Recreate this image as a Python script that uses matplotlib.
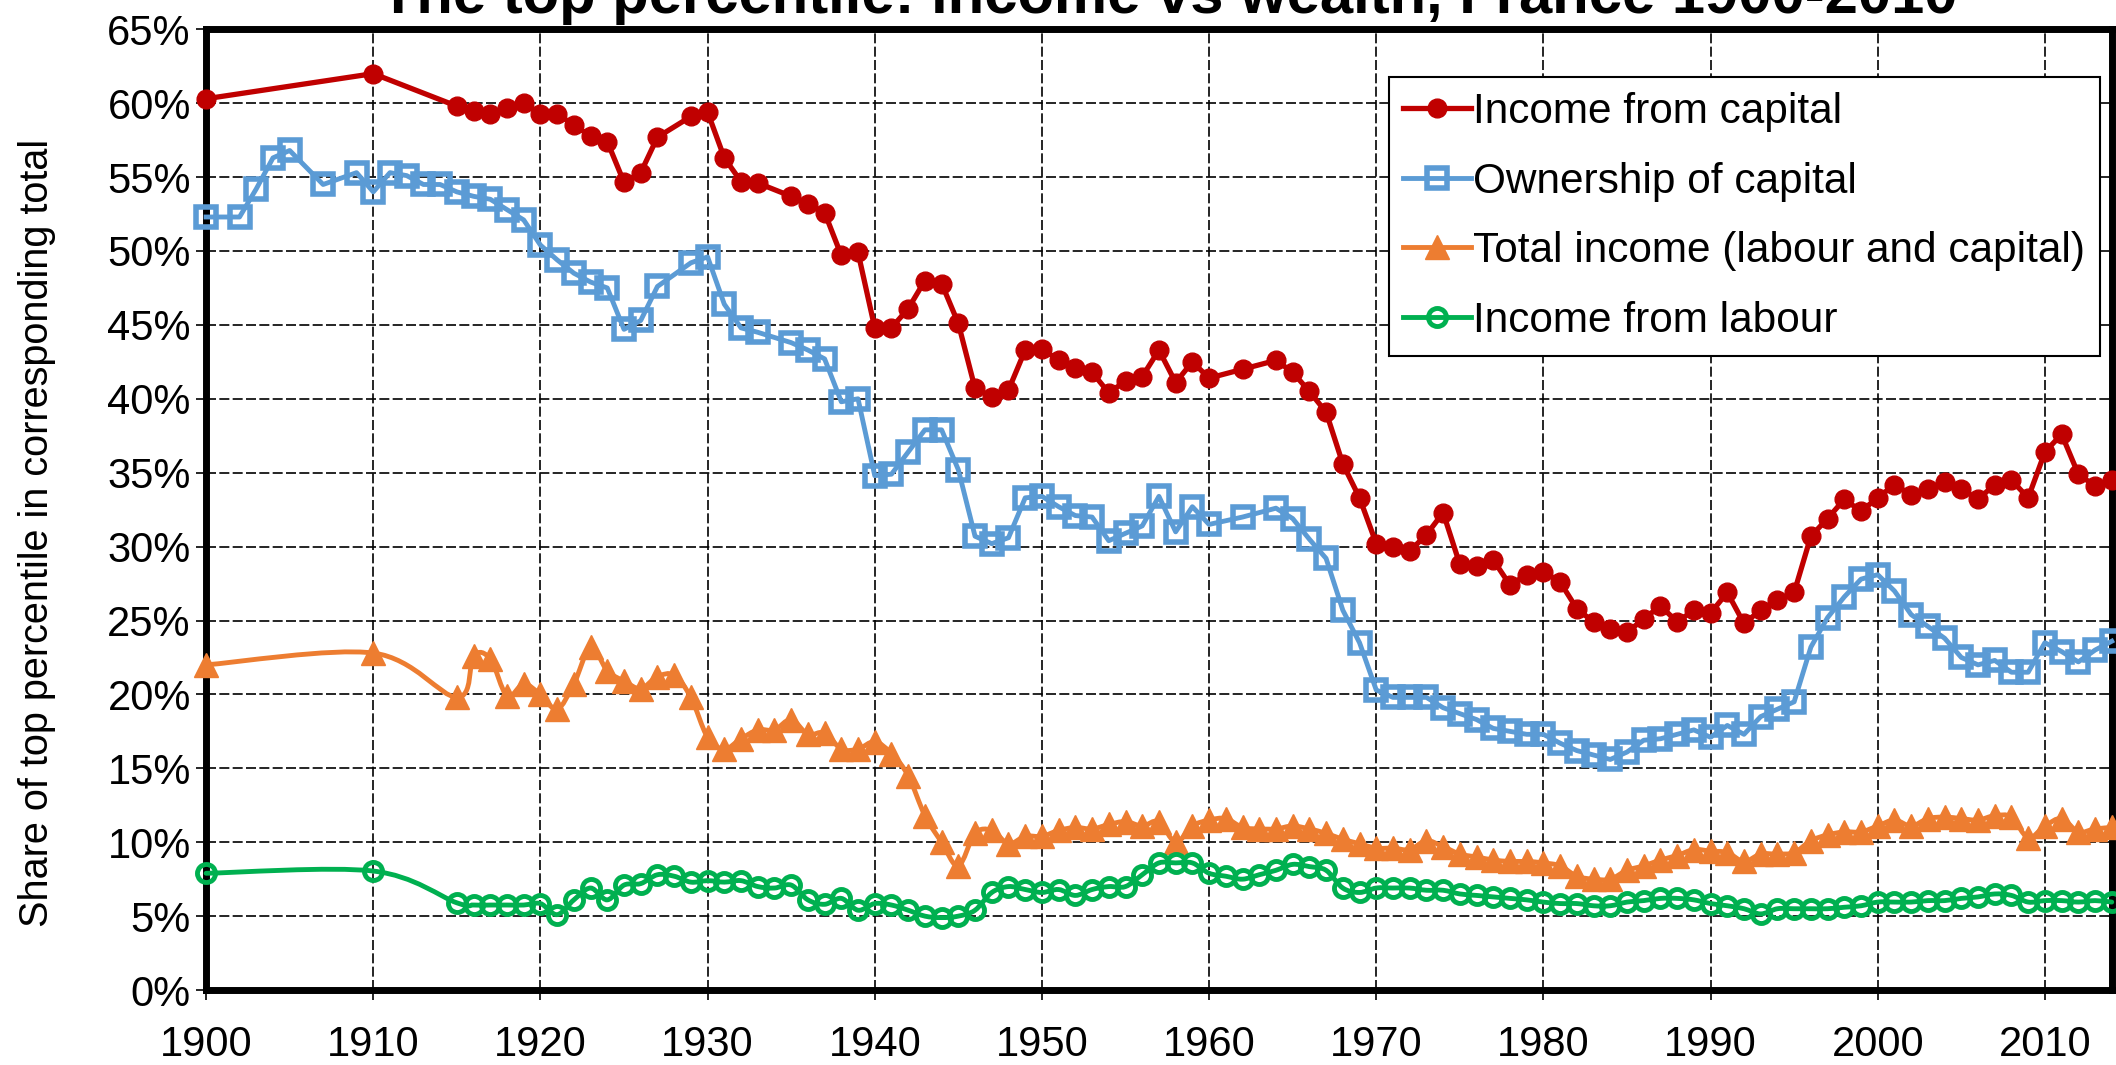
import numpy as np
import matplotlib
matplotlib.use("Agg")
import matplotlib.pyplot as plt
from matplotlib.lines import Line2D
from matplotlib.path import Path
from matplotlib.patches import PathPatch

plt.rcParams["font.family"] = ["Liberation Sans", "DejaVu Sans"]

# ---------------------------------------------------------------------------
# Data (shares in %)
# ---------------------------------------------------------------------------

TITLE = "The top percentile: income vs wealth, France 1900-2010"
YLABEL = "Share of top percentile in corresponding total"
LABELS = ["Income from capital", "Ownership of capital",
          "Total income (labour and capital)", "Income from labour"]

cap_income_years = [1900, 1910, 1915, 1916, 1917, 1918, 1919, 1920, 1921, 1922,
                    1923, 1924, 1925, 1926, 1927, 1929, 1930, 1931, 1932, 1933,
                    1935, 1936, 1937, 1938, 1939, 1940, 1941, 1942, 1943, 1944,
                    1945, 1946, 1947, 1948, 1949, 1950, 1951, 1952, 1953, 1954,
                    1955, 1956, 1957, 1958, 1959, 1960, 1962] + list(range(1964, 2015))
cap_income = [60.3, 62.0, 59.8, 59.5, 59.25, 59.7, 60.0, 59.3, 59.3, 58.5,
              57.8, 57.4, 54.65, 55.3, 57.7, 59.1, 59.4, 56.3, 54.7, 54.6,
              53.7, 53.2, 52.6, 49.7, 49.9, 44.8, 44.8, 46.1, 48.0, 47.8,
              45.1, 40.7, 40.15, 40.6, 43.3, 43.4, 42.6, 42.1, 41.8, 40.4,
              41.2, 41.5, 43.3, 41.1, 42.5, 41.4, 42.0,
              42.6, 41.8, 40.5, 39.1, 35.6, 33.3, 30.2, 30.0, 29.7, 30.8,
              32.3, 28.8, 28.7, 29.1, 27.4, 28.1, 28.3, 27.6, 25.8, 24.9,
              24.4, 24.2, 25.1, 26.0, 24.9, 25.7, 25.5, 26.9, 24.8, 25.7,
              26.4, 26.9, 30.7, 31.9, 33.2, 32.4, 33.3, 34.2, 33.5, 33.9,
              34.4, 33.9, 33.2, 34.2, 34.5, 33.3, 36.4, 37.6, 34.9, 34.1,
              34.5]

wealth_years = [1900, 1902, 1903, 1904, 1905, 1907, 1909, 1910, 1911, 1912,
                1913, 1914, 1915, 1916, 1917, 1918, 1919, 1920, 1921, 1922,
                1923, 1924, 1925, 1926, 1927, 1929, 1930, 1931, 1932, 1933,
                1935, 1936, 1937, 1938, 1939, 1940, 1941, 1942, 1943, 1944,
                1945, 1946, 1947, 1948, 1949, 1950, 1951, 1952, 1953, 1954,
                1955, 1956, 1957, 1958, 1959, 1960, 1962] + list(range(1964, 2015))
wealth = [52.3, 52.3, 54.2, 56.3, 56.8, 54.5, 55.3, 54.0, 55.3, 55.1,
          54.5, 54.5, 54.0, 53.7, 53.5, 52.8, 52.1, 50.4, 49.4, 48.5,
          47.9, 47.5, 44.7, 45.3, 47.6, 49.2, 49.6, 46.4, 44.8, 44.5,
          43.8, 43.3, 42.7, 39.8, 40.0, 34.8, 34.9, 36.4, 37.9, 37.9,
          35.2, 30.7, 30.2, 30.6, 33.3, 33.4, 32.7, 32.1, 32.0, 30.4,
          30.9, 31.4, 33.4, 31.0, 32.7, 31.5, 32.0,
          32.6, 31.9, 30.5, 29.2, 25.7, 23.5, 20.3, 19.8, 19.8, 19.8,
          19.1, 18.7, 18.3, 17.7, 17.5, 17.3, 17.3, 16.7, 16.2, 15.9,
          15.6, 16.1, 16.9, 17.0, 17.3, 17.6, 17.1, 17.9, 17.3, 18.5,
          19.0, 19.5, 23.2, 25.2, 26.6, 27.8, 28.1, 27.0, 25.4, 24.6,
          23.8, 22.5, 22.0, 22.3, 21.5, 21.5, 23.5, 22.9, 22.2, 23.0,
          23.6]

income_years = [1900, 1910] + list(range(1915, 2015))
total_income = [22.0, 22.8,
                19.8, 22.6, 22.4, 19.9, 20.7, 20.0, 19.0, 20.7, 23.2, 21.6,
                20.9, 20.4, 21.2, 21.3, 19.8, 17.1, 16.3, 17.0, 17.6, 17.6,
                18.3, 17.3, 17.4, 16.3, 16.3, 16.8, 16.0, 14.5, 11.8, 10.0,
                8.4, 10.6, 10.8, 9.9, 10.4, 10.4, 10.8, 11.0, 10.9, 11.2,
                11.4, 11.1, 11.4, 10.0, 11.1, 11.5, 11.6, 11.0, 10.9, 10.9,
                11.1, 10.9, 10.6, 10.2, 9.9, 9.6, 9.6, 9.5, 10.1, 9.7,
                9.2, 9.0, 8.8, 8.7, 8.7, 8.6, 8.4, 7.7, 7.5, 7.5,
                8.1, 8.4, 8.8, 9.1, 9.5, 9.4, 9.3, 8.7, 9.2, 9.2,
                9.3, 10.1, 10.5, 10.7, 10.7, 11.1, 11.5, 11.1, 11.6, 11.7,
                11.6, 11.5, 11.8, 11.7, 10.3, 11.1, 11.6, 10.7, 10.9, 11.0]
labour_income = [7.9, 8.05,
                 5.9, 5.75, 5.75, 5.75, 5.75, 5.85, 5.1, 6.1, 6.9, 6.1,
                 7.1, 7.2, 7.8, 7.7, 7.3, 7.4, 7.3, 7.4, 7.0, 6.9,
                 7.1, 6.1, 5.8, 6.2, 5.4, 5.85, 5.75, 5.4, 5.0, 4.9,
                 5.0, 5.4, 6.6, 7.0, 6.8, 6.6, 6.8, 6.4, 6.8, 7.0,
                 7.0, 7.8, 8.6, 8.6, 8.6, 7.9, 7.7, 7.5, 7.8, 8.1,
                 8.5, 8.35, 8.1, 6.9, 6.6, 6.9, 6.9, 6.9, 6.75, 6.75,
                 6.5, 6.4, 6.3, 6.2, 6.1, 5.95, 5.85, 5.85, 5.7, 5.7,
                 5.95, 6.05, 6.2, 6.2, 6.1, 5.85, 5.7, 5.5, 5.15, 5.5,
                 5.5, 5.5, 5.5, 5.6, 5.7, 5.95, 5.95, 5.95, 6.05, 6.05,
                 6.2, 6.3, 6.5, 6.4, 5.95, 6.05, 6.05, 5.95, 6.05, 5.95]

x_ticks = list(range(1900, 2011, 10))
y_ticks = list(range(0, 66, 5))

RED, BLUE, ORANGE, GREEN = "#C00000", "#5B9BD5", "#ED7D31", "#00B050"


def smooth_path(xs, ys):
    """Excel-style smoothed line as cubic Bezier segments (Catmull-Rom, 1/6)."""
    pts = np.column_stack([xs, ys]).astype(float)
    n = len(pts)
    verts, codes = [pts[0]], [Path.MOVETO]
    for i in range(n - 1):
        p0 = pts[i - 1] if i > 0 else pts[i]
        p1, p2 = pts[i], pts[i + 1]
        p3 = pts[i + 2] if i + 2 < n else pts[i + 1]
        verts += [p1 + (p2 - p0) / 6, p2 - (p3 - p1) / 6, p2]
        codes += [Path.CURVE4] * 3
    return Path(verts, codes)


# ---------------------------------------------------------------------------
# Figure
# ---------------------------------------------------------------------------

fig = plt.figure(figsize=(21.16, 10.65), dpi=100)
ax = fig.add_axes([0.0974, 0.0704, 0.9006, 0.9021])

styles = [
    dict(color=RED, lw=3.8, marker="o", ms=13.5, mfc=RED, mec=RED, mew=1),
    dict(color=BLUE, lw=3.5, marker="s", ms=14.5, mfc="none", mec=BLUE, mew=4),
    dict(color=ORANGE, lw=3.5, marker="^", ms=17, mfc=ORANGE, mec=ORANGE, mew=1),
    dict(color=GREEN, lw=3.5, marker="o", ms=13, mfc="none", mec=GREEN, mew=3.5),
]

# straight lines
ax.plot(cap_income_years, cap_income, zorder=4, clip_on=False, **styles[0])
ax.plot(wealth_years, wealth, zorder=4, clip_on=False, **styles[1])

# smoothed lines
for yrs, vals, st in [(income_years, total_income, styles[2]),
                      (income_years, labour_income, styles[3])]:
    ax.add_patch(PathPatch(smooth_path(yrs, vals), fill=False, edgecolor=st["color"],
                           lw=st["lw"], zorder=4, clip_on=False, capstyle="round"))
    ax.plot(yrs, vals, ls="none", zorder=4, clip_on=False,
            **{k: v for k, v in st.items() if k not in ("lw",)})

ax.set_xlim(1900, 2014)
ax.set_ylim(0, 65)
ax.set_xticks(x_ticks)
ax.set_yticks(y_ticks)
ax.set_yticklabels([f"{v}%" for v in y_ticks])

ax.grid(True, color="black", lw=1.2, ls=(0, (6, 2)))
ax.set_axisbelow(True)
for sp in ax.spines.values():
    sp.set_linewidth(5)
    sp.set_color("black")

ax.tick_params(axis="both", direction="out", length=7, width=1.2, labelsize=30)
ax.tick_params(axis="y", pad=4)
ax.tick_params(axis="x", pad=18.5)

ax.set_ylabel(YLABEL, fontsize=28.5)
ax.yaxis.set_label_coords(-0.079, 0.476)

fig.text(0.5525, 0.988, TITLE, ha="center", va="baseline",
         fontsize=43, fontweight="bold")

handles = [Line2D([0], [0], **st) for st in styles]
leg = ax.legend(handles, LABELS, loc="upper right", bbox_to_anchor=(0.9939, 0.9503),
                borderaxespad=0, fontsize=30.5, frameon=True, fancybox=False,
                edgecolor="black", framealpha=1, handlelength=1.6,
                handletextpad=0.05, labelspacing=0.7, borderpad=0.35, numpoints=1)
leg.get_frame().set_linewidth(1.5)
leg.set_zorder(6)

fig.savefig("out.png", dpi=100)
